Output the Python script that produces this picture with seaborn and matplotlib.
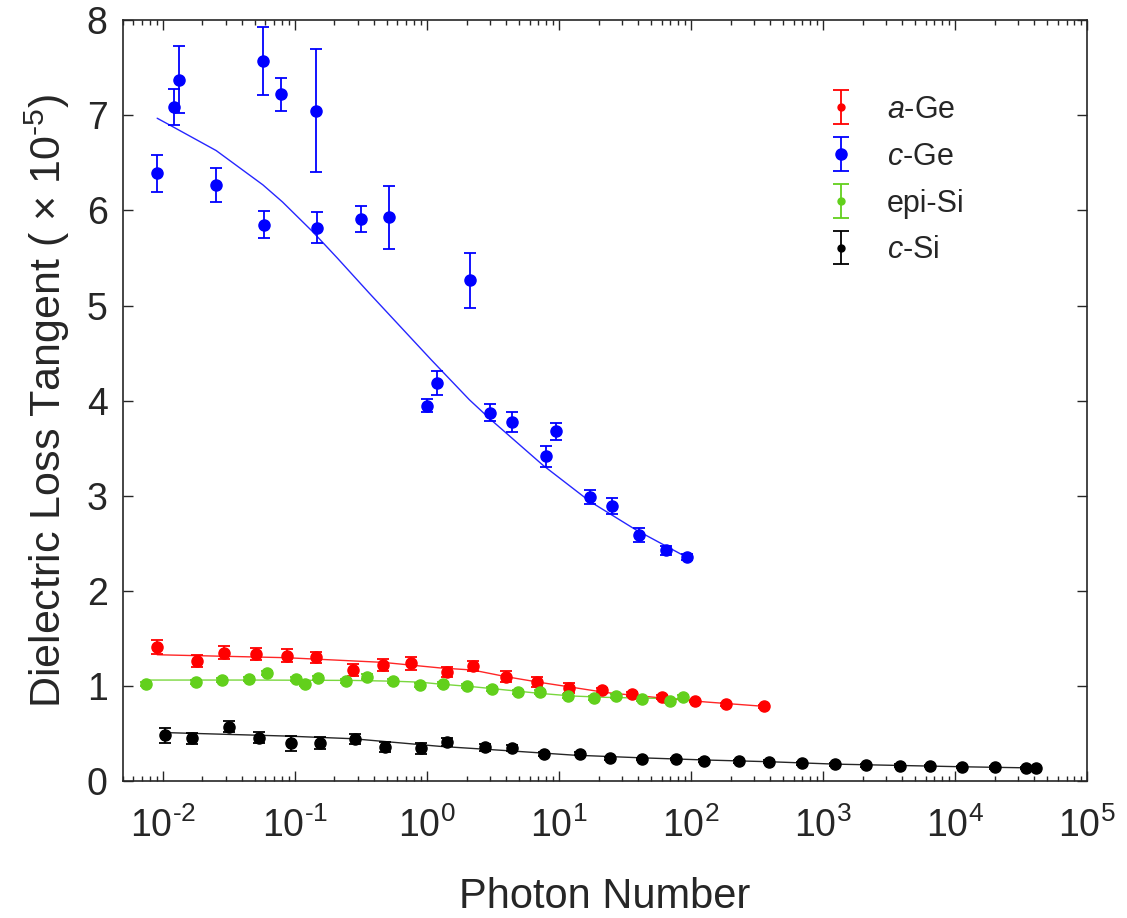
import numpy as np
import pandas as pd
import matplotlib
matplotlib.use("Agg")
import matplotlib.pyplot as plt
import seaborn as sns
from matplotlib.container import ErrorbarContainer
from matplotlib.legend_handler import HandlerErrorbar
from matplotlib.ticker import FixedLocator, LogLocator, NullFormatter, NullLocator, FuncFormatter

# ---- data ----
# a-Ge
age_n = [0.00908, 0.0182, 0.0293, 0.0513, 0.0875, 0.144, 0.277, 0.464, 0.762, 1.43,
         2.25, 3.95, 6.81, 11.9, 21.2, 35.7, 60.7, 108, 183, 361]
age_tan = [1.41, 1.26, 1.35, 1.335, 1.32, 1.30, 1.167, 1.22, 1.237, 1.149,
           1.212, 1.097, 1.041, 0.981, 0.954, 0.918, 0.887, 0.841, 0.806, 0.785]
age_err = [0.077, 0.066, 0.067, 0.063, 0.067, 0.061, 0.067, 0.063, 0.067, 0.053,
           0.05, 0.056, 0.05, 0.05, 0.025, 0.02, 0.02, 0.015, 0.015, 0.015]
age_fit_n = [0.00908, 0.0861, 0.464, 1.248, 2.23, 4.0, 7.14, 12.7, 22.9, 72.6, 131, 361]
age_fit_tan = [1.328, 1.297, 1.248, 1.19, 1.167, 1.097, 1.038, 0.985, 0.93, 0.862, 0.831, 0.785]

# c-Ge
cge_n = [0.00908, 0.0121, 0.0134, 0.0252, 0.0577, 0.0582, 0.0783, 0.144, 0.148, 0.318,
         0.515, 2.12, 1.0, 1.205, 3.02, 4.43, 8.03, 9.6, 17.3, 25.2, 40.2, 65.2, 92.7]
cge_tan = [6.39, 7.09, 7.375, 6.27, 7.57, 5.85, 7.22, 7.05, 5.82, 5.91,
           5.93, 5.265, 3.946, 4.185, 3.873, 3.775, 3.414, 3.677, 2.986, 2.895, 2.587, 2.426, 2.355]
cge_err = [0.195, 0.19, 0.35, 0.18, 0.36, 0.14, 0.17, 0.65, 0.165, 0.135,
           0.33, 0.29, 0.067, 0.13, 0.087, 0.107, 0.113, 0.09, 0.07, 0.082, 0.07, 0.05, 0.03]
cge_fit_n = [0.00908, 0.01125, 0.0254, 0.0573, 0.0807, 0.136, 0.21, 0.367, 1.08, 2.1,
             3.0, 7.6, 17.2, 38.5, 100]
cge_fit_tan = [6.97, 6.90, 6.63, 6.27, 6.09, 5.78, 5.50, 5.13, 4.43, 4.01,
               3.81, 3.32, 2.94, 2.64, 2.33]

# epi-Si
esi_n = [0.00748, 0.0180, 0.0282, 0.0449, 0.0618, 0.1025, 0.119, 0.149, 0.246, 0.354,
         0.55, 0.885, 1.32, 2.03, 3.13, 4.92, 7.26, 11.7, 18.6, 27.2, 42.4, 69.9, 87]
esi_tan = [1.017, 1.041, 1.059, 1.069, 1.136, 1.076, 1.02, 1.086, 1.055, 1.097,
           1.048, 1.013, 1.02, 0.999, 0.967, 0.939, 0.939, 0.89, 0.876, 0.894, 0.862, 0.841, 0.880]
esi_err = [0.02, 0.02, 0.02, 0.02, 0.025, 0.02, 0.02, 0.02, 0.02, 0.025,
           0.02, 0.02, 0.02, 0.02, 0.02, 0.02, 0.02, 0.02, 0.02, 0.02, 0.02, 0.02, 0.02]
esi_fit_n = [0.00748, 0.0478, 0.275, 0.552, 0.881, 1.248, 2.22, 4.0, 7.14, 12.7, 22.9, 40.5, 85]
esi_fit_tan = [1.062, 1.062, 1.058, 1.05, 1.04, 1.02, 0.992, 0.957, 0.922, 0.894, 0.880, 0.873, 0.865]

# c-Si
csi_n = [0.0104, 0.0166, 0.0315, 0.0534, 0.0933, 0.155, 0.287, 0.484, 0.908, 1.43,
         2.74, 4.43, 7.66, 14.4, 24.3, 42.9, 76.9, 125, 231, 394,
         698, 1227, 2105, 3855, 6470, 11380, 20100, 34300, 41400]
csi_tan = [0.48, 0.449, 0.571, 0.456, 0.396, 0.40, 0.438, 0.358, 0.344, 0.41,
           0.354, 0.347, 0.284, 0.287, 0.239, 0.231, 0.231, 0.214, 0.207, 0.203,
           0.186, 0.176, 0.165, 0.161, 0.158, 0.147, 0.144, 0.137, 0.137]
csi_err = [0.08, 0.058, 0.06, 0.06, 0.077, 0.065, 0.053, 0.056, 0.056, 0.044,
           0.04, 0.035, 0.02, 0.015, 0.015, 0.015, 0.015, 0.015, 0.015, 0.015,
           0.015, 0.015, 0.015, 0.015, 0.015, 0.015, 0.015, 0.015, 0.015]
csi_fit_n = [0.0114, 0.086, 0.275, 1.25, 4.0, 12.7, 40.5, 131, 394, 1227, 11380, 41400]
csi_fit_tan = [0.508, 0.473, 0.445, 0.365, 0.32, 0.273, 0.245, 0.221, 0.203, 0.178, 0.15, 0.137]

x_decades = [1e-2, 1e-1, 1e0, 1e1, 1e2, 1e3, 1e4, 1e5]

series = [
    ("$\\it{a}$-Ge", "#FF0000", age_n, age_tan, age_err, age_fit_n, age_fit_tan, 5),
    ("$\\it{c}$-Ge", "#0000FF", cge_n, cge_tan, cge_err, cge_fit_n, cge_fit_tan, 8),
    ("epi-Si", "#62D01C", esi_n, esi_tan, esi_err, esi_fit_n, esi_fit_tan, 5),
    ("$\\it{c}$-Si", "#000000", csi_n, csi_tan, csi_err, csi_fit_n, csi_fit_tan, 5),
]

sns.set_style("ticks")
plt.rcParams["font.family"] = ["Liberation Sans", "DejaVu Sans"]
plt.rcParams["mathtext.fontset"] = "custom"
plt.rcParams["mathtext.rm"] = "Liberation Sans"
plt.rcParams["mathtext.it"] = "Liberation Sans:italic"
plt.rcParams["axes.edgecolor"] = "#262626"

HY = "\u2010"  # short hyphen like the original's exponents

fig = plt.figure(figsize=(11.27, 9.18), dpi=100)
ax = fig.add_axes([0.1091, 0.1492, 0.8554, 0.8287])
ax.set_xscale("log")

handles = []
for label, color, n, tan, err, fn, ftan, leg_ms in series:
    fit = pd.DataFrame({"n": fn, "tan": ftan})
    sns.lineplot(data=fit, x="n", y="tan", ax=ax, color=color, lw=1.0,
                 sort=False, estimator=None, alpha=0.85)
    ax.errorbar(n, tan, yerr=err, fmt="o", color=color, ms=8, elinewidth=1.3,
                capsize=4, capthick=1.3, zorder=3)
    # legend proxy (nothing drawn)
    h = ax.errorbar([np.nan], [np.nan], yerr=[np.nan], fmt="o", color=color,
                    ms=leg_ms, elinewidth=1.3, capsize=6, capthick=1.3, label=label)
    handles.append(h)

ax.set_xlim(0.005, 1e5)
ax.set_ylim(0, 8)
ax.set_yticks(range(0, 9))
ax.yaxis.set_minor_locator(NullLocator())
ax.xaxis.set_major_locator(FixedLocator(x_decades))
ax.xaxis.set_major_formatter(FuncFormatter(
    lambda v, p: "10$^{%s}$" % str(int(round(np.log10(v)))).replace("-", HY)))
ax.xaxis.set_minor_locator(LogLocator(base=10, subs=np.arange(2, 10), numticks=200))
ax.xaxis.set_minor_formatter(NullFormatter())

ax.tick_params(which="both", direction="in", top=True, right=True,
               colors="#262626", labelsize=27)
ax.tick_params(which="major", length=7.2, width=1.0)
ax.tick_params(which="minor", length=3.6, width=1.0)
ax.tick_params(axis="x", which="major", pad=19)
ax.tick_params(axis="y", which="major", pad=11)
for sp in ax.spines.values():
    sp.set_linewidth(1.2)
    sp.set_visible(True)

ax.set_xlabel("Photon Number", fontsize=30, color="#262626", labelpad=23)
ax.set_ylabel("Dielectric Loss Tangent ( \u00d7 10$^{%s5}$)" % HY, fontsize=31,
              color="#262626", labelpad=11)

ax.legend(handles=handles, loc="upper left", bbox_to_anchor=(0.7055, 0.922),
          frameon=False, fontsize=22, borderpad=0, handlelength=1.5,
          handletextpad=0.75, labelspacing=0.55,
          handler_map={ErrorbarContainer: HandlerErrorbar(yerr_size=0.55)})

fig.savefig("out.png", dpi=100)
